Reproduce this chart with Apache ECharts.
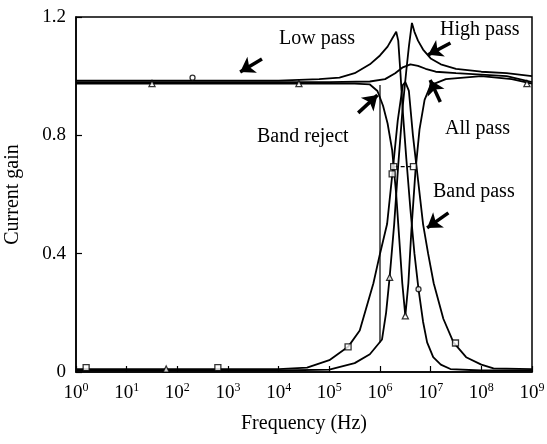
<!DOCTYPE html>
<html>
<head>
<meta charset="utf-8">
<script src="https://cdn.jsdelivr.net/npm/echarts@6/dist/echarts.min.js"></script>
<style>
  html, body { margin: 0; padding: 0; background: #fff; }
  #chart { width: 547px; height: 444px; }
</style>
</head>
<body>
<div id="chart"></div>
<script>
// x values are log10 of frequency (Hz), y values are current gain
const xTicks = [0, 1, 2, 3, 4, 5, 6, 7, 8, 9];
const yTicks = [0, 0.4, 0.8, 1.2];

const lowPass = [[0,0.985],[2,0.985],[4,0.985],[4.8,0.99],[5.2,0.995],[5.5,1.01],[5.8,1.04],[6.0,1.07],[6.15,1.1],[6.25,1.13],[6.32,1.15],[6.36,1.12],[6.4,1.02],[6.45,0.88],[6.52,0.72],[6.6,0.55],[6.68,0.4],[6.76,0.28],[6.85,0.17],[6.93,0.1],[7.05,0.05],[7.2,0.025],[7.39,0.01],[8,0.005],[9,0.005]];
const highPass = [[0,0.005],[4,0.005],[5,0.008],[5.5,0.03],[5.8,0.06],[6.04,0.11],[6.12,0.2],[6.19,0.32],[6.28,0.5],[6.36,0.7],[6.45,0.9],[6.52,1.02],[6.57,1.1],[6.63,1.18],[6.68,1.15],[6.75,1.12],[6.85,1.09],[7.0,1.06],[7.2,1.04],[7.5,1.025],[8,1.015],[8.5,1.01],[9,1.0]];
const bandPass = [[0,0.01],[4,0.01],[4.56,0.015],[5.0,0.04],[5.37,0.085],[5.6,0.14],[5.87,0.3],[6.0,0.4],[6.14,0.5],[6.25,0.68],[6.35,0.85],[6.45,0.97],[6.5,0.98],[6.57,0.95],[6.65,0.8],[6.75,0.65],[6.85,0.5],[6.95,0.4],[7.06,0.3],[7.25,0.18],[7.45,0.1],[7.7,0.05],[8.0,0.025],[8.24,0.012],[9,0.01]];
const bandReject = [[0,0.975],[4,0.975],[5.5,0.975],[5.8,0.972],[5.95,0.95],[6.06,0.9],[6.15,0.84],[6.24,0.75],[6.32,0.6],[6.38,0.45],[6.44,0.3],[6.5,0.19],[6.56,0.3],[6.62,0.48],[6.7,0.68],[6.78,0.82],[6.88,0.92],[7.0,0.97],[7.3,0.99],[8,1.0],[8.6,0.99],[9,0.975]];
const allPass = [[0,0.98],[5,0.98],[5.8,0.982],[6.1,0.99],[6.3,1.01],[6.45,1.03],[6.6,1.04],[6.75,1.035],[6.9,1.025],[7.1,1.015],[7.5,1.01],[8,1.005],[8.5,1.0],[9,0.98]];
const stepLine = [[6.0,0.97],[6.0,0.1]];
const dashLine = [[6.27,0.694],[6.66,0.694]];

const squareMarks = [[0.2,0.015],[2.8,0.015],[5.37,0.085],[7.49,0.098],[6.27,0.694],[6.66,0.694],[6.24,0.67]];
const triangleMarks = [[1.78,0.01],[6.19,0.32],[6.5,0.19],[8.9,0.975],[4.4,0.975],[1.5,0.975]];
const circleMarks = [[2.3,0.995],[6.76,0.28]];

// arrows: [from, to] in data coordinates
const arrows = [
  [[3.67,1.058],[3.24,1.014]],
  [[7.39,1.112],[6.95,1.072]],
  [[5.57,0.876],[5.95,0.936]],
  [[7.19,0.913],[6.99,0.987]],
  [[7.35,0.538],[6.93,0.487]]
];

const labels = [
  { text: "Low pass", left: 279, top: 29 },
  { text: "High pass", left: 440, top: 20 },
  { text: "Band reject", left: 257, top: 127 },
  { text: "All pass", left: 445, top: 119 },
  { text: "Band pass", left: 433, top: 182 }
];

const serif = '"Liberation Serif", "Times New Roman", serif';

function curve(data, extra) {
  return Object.assign({
    type: "line",
    data: data,
    showSymbol: false,
    symbol: "none",
    lineStyle: { color: "#000", width: 1.8 },
    animation: false,
    silent: true
  }, extra || {});
}

function marks(data, symbol, size) {
  return {
    type: "scatter",
    data: data,
    symbol: symbol,
    symbolSize: size,
    itemStyle: { color: "#fff", borderColor: "#000", borderWidth: 1.3 },
    animation: false,
    silent: true,
    z: 3
  };
}

const chart = echarts.init(document.getElementById("chart"));
chart.setOption({
  backgroundColor: "#fff",
  grid: {
    left: 76, right: 15, top: 17, bottom: 72,
    outerBoundsMode: "none",
    containLabel: false,
    show: true, borderColor: "#000", borderWidth: 1.5
  },
  xAxis: {
    type: "value",
    min: xTicks[0],
    max: xTicks[xTicks.length - 1],
    interval: 1,
    name: "Frequency (Hz)",
    nameLocation: "middle",
    nameGap: 42,
    nameTextStyle: { fontFamily: serif, fontSize: 20, color: "#000" },
    axisLine: { lineStyle: { color: "#000", width: 1.5 } },
    axisTick: { inside: true, length: 6, lineStyle: { color: "#000", width: 1.2 } },
    splitLine: { show: false },
    axisLabel: {
      margin: 10,
      formatter: v => "{b|10}{s|" + v + "}",
      rich: {
        b: { fontFamily: serif, fontSize: 19, color: "#000", lineHeight: 22 },
        s: { fontFamily: serif, fontSize: 12, color: "#000", verticalAlign: "top", lineHeight: 12, padding: [0, 0, 8, 0] }
      }
    }
  },
  yAxis: {
    type: "value",
    min: yTicks[0],
    max: yTicks[yTicks.length - 1],
    interval: 0.4,
    name: "Current gain",
    nameLocation: "middle",
    nameGap: 53,
    nameTextStyle: { fontFamily: serif, fontSize: 20, color: "#000" },
    axisLine: { lineStyle: { color: "#000", width: 1.5 } },
    axisTick: { inside: true, length: 6, lineStyle: { color: "#000", width: 1.2 } },
    splitLine: { show: false },
    axisLabel: { margin: 10, fontFamily: serif, fontSize: 19, color: "#000" }
  },
  series: [
    curve(lowPass),
    curve(highPass),
    curve(bandPass),
    curve(bandReject),
    curve(allPass),
    curve(stepLine, { lineStyle: { color: "#000", width: 1.2 } }),
    curve(dashLine, { lineStyle: { color: "#000", width: 1.2, type: [4, 3] } }),
    marks(squareMarks, "rect", 6),
    marks(triangleMarks, "triangle", 6),
    marks(circleMarks, "circle", 5),
    {
      type: "line",
      data: [],
      silent: true,
      animation: false,
      markLine: {
        silent: true,
        animation: false,
        symbol: ["none", "arrow"],
        symbolSize: 14,
        label: { show: false },
        itemStyle: { color: "#000" },
        lineStyle: { color: "#000", width: 3.5, type: "solid" },
        data: arrows.map(a => [{ coord: a[0] }, { coord: a[1] }])
      }
    }
  ],
  graphic: labels.map(l => ({
    type: "text",
    left: l.left,
    top: l.top,
    silent: true,
    style: { text: l.text, font: "20px " + serif, fill: "#000" }
  }))
});
</script>
</body>
</html>
